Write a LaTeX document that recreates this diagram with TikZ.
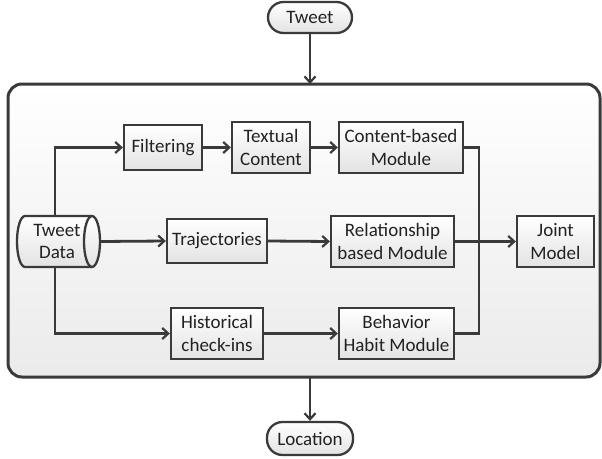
\documentclass[tikz,border=0pt]{standalone}
\usepackage{fontspec}
\setmainfont{Carlito}
\usetikzlibrary{arrows.meta}
\definecolor{linecol}{HTML}{3A3A3A}
\definecolor{txtcol}{HTML}{222222}
\begin{document}
\begin{tikzpicture}[x=1pt,y=-1pt,
  font=\fontsize{19}{22.5}\selectfont,
  every node/.style={text=txtcol},
  conn/.style={draw=linecol,line width=2.8pt},
  arr/.style={conn,-{Straight Barb[length=6pt,width=11pt,line width=2.2pt]}},
  procbox/.style={draw=linecol,line width=2.3pt,top color=white,bottom color=gray!22,
    align=center,inner sep=0pt,shape=rectangle},
  termbox/.style={procbox,rounded corners=15.5pt},
  container/.style={draw=linecol,line width=3pt,top color=white,bottom color=gray!16,
    rounded corners=14pt,inner sep=0pt},
  cylfill/.style={draw=linecol,line width=2.3pt,top color=white,bottom color=gray!22},
  cylline/.style={draw=linecol,line width=2.3pt}]
\useasboundingbox (0,0) rectangle (602,458);

\node[container,minimum width=592pt,minimum height=293pt] (frame) at (304,230.5) {};

\node[termbox,minimum width=84pt,minimum height=31pt] (tweet) at (310,17.5) {Tweet};
\node[termbox,minimum width=86pt,minimum height=33pt] (loc) at (310,438.5) {Location};

% Tweet Data: horizontal cylinder
\path[cylfill] (25,216) -- (92,216) arc(-90:90:8 and 25.5) -- (25,267)
  arc(90:270:8 and 25.5) -- cycle;
\draw[cylline] (92,216) arc(-90:-270:8 and 25.5);
\node[align=center,inner sep=0pt,minimum width=83pt,minimum height=51pt] (td) at (57,241.5) {Tweet\\Data};

\node[procbox,minimum width=78pt,minimum height=45pt] (filt) at (163,147.5) {Filtering};
\node[procbox,minimum width=78pt,minimum height=51pt] (txt) at (271,147.5) {Textual\\Content};
\node[procbox,minimum width=124pt,minimum height=51pt] (cont) at (401,147.5) {Content-based\\Module};

\node[procbox,minimum width=100pt,minimum height=44pt] (traj) at (217,241) {Trajectories};
\node[procbox,minimum width=123pt,minimum height=51pt] (rel) at (392.5,241.5) {Relationship\\based Module};
\node[procbox,minimum width=77pt,minimum height=51pt] (joint) at (555.5,241.5) {Joint\\Model};

\node[procbox,minimum width=92pt,minimum height=51pt] (hist) at (217,333.5) {Historical\\check-ins};
\node[procbox,minimum width=115pt,minimum height=51pt] (beh) at (396.5,333.5) {Behavior\\Habit Module};

\coordinate (coll) at (479,241.5);
\coordinate (ftop) at (310,84);
\coordinate (fbot) at (310,377);
\coordinate (tdup) at (55,217);
\coordinate (tddn) at (55,266);
\coordinate (tdr) at (100,241.5);

\draw[arr] (tweet.south) -- (ftop);
\draw[arr] (fbot) -- (loc.north);

\draw[arr] (tdup) |- (filt.west);
\draw[arr] (tddn) |- (hist.west);
\draw[arr] (tdr) -- (traj.west);

\draw[arr] (filt.east) -- (txt.west);
\draw[arr] (txt.east) -- (cont.west);
\draw[arr] (traj.east) -- (rel.west);
\draw[arr] (hist.east) -- (beh.west);

\draw[conn] (cont.east) -| (coll) |- (beh.east);
\draw[arr] (rel.east) -- (joint.west);
\end{tikzpicture}
\end{document}
